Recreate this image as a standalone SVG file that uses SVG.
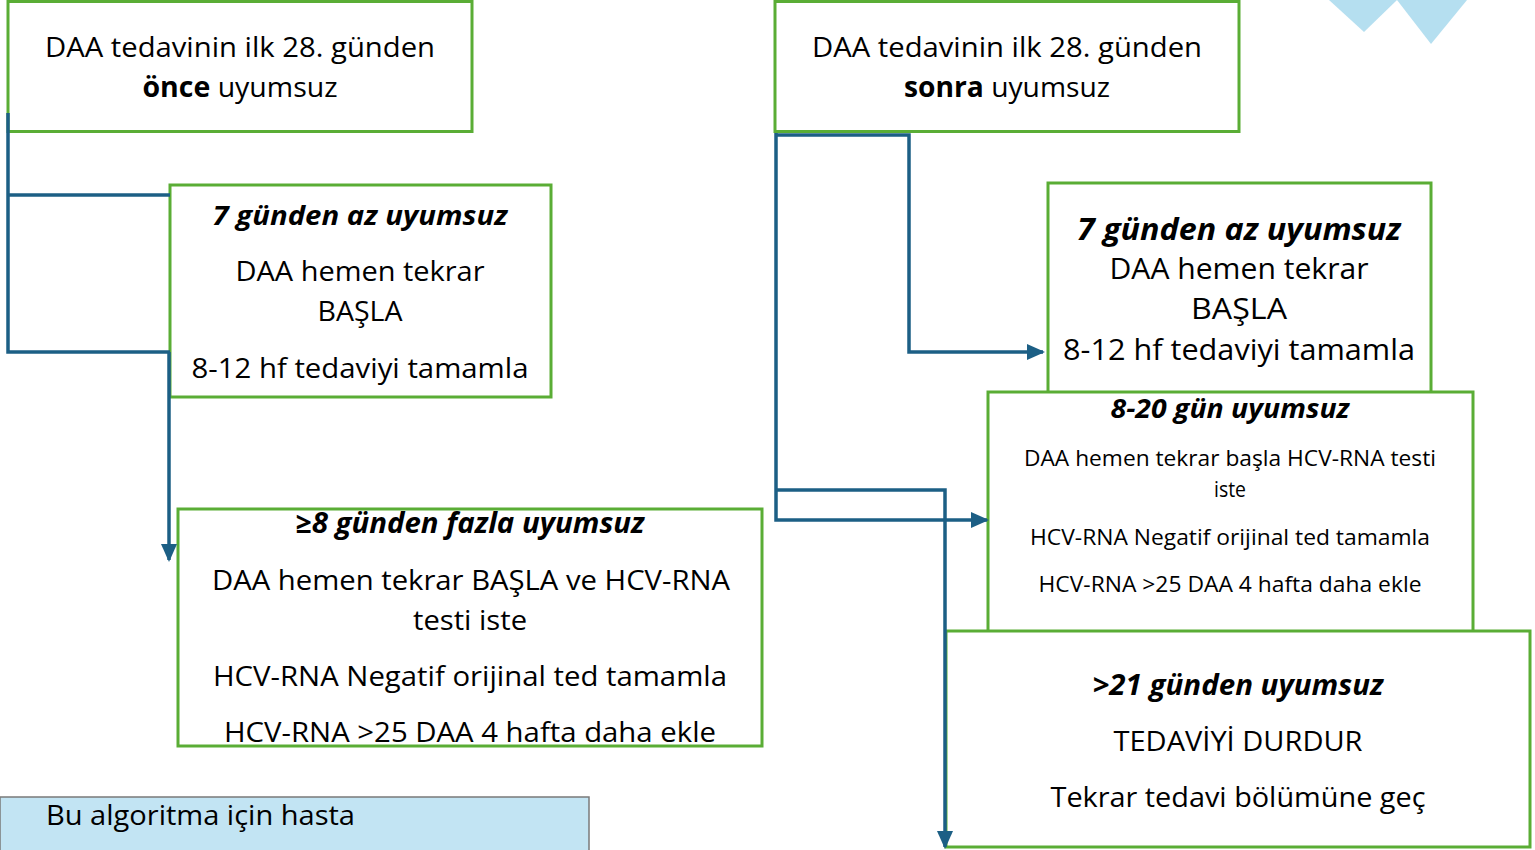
<svg xmlns="http://www.w3.org/2000/svg" width="1535" height="850" viewBox="0 0 1535 850">
<style>
.box{fill:#fff;stroke:#5aad35;stroke-width:3}
.t{font-family:"Open Sans","Noto Sans","Liberation Sans",sans-serif;fill:#000;text-anchor:middle}
.b{font-weight:bold}
.bi{font-weight:bold;font-style:italic}
.c{fill:none;stroke:#1c5f85;stroke-width:3.5}
</style>
<defs>
<marker id="ahl" markerWidth="18" markerHeight="18" refX="16" refY="9" orient="auto" markerUnits="userSpaceOnUse" viewBox="0 0 18 18">
<path d="M0,1 L18,9 L0,17 z" fill="#1c5f85"/>
</marker>
</defs>
<rect width="1535" height="850" fill="#fff"/>
<g id="decor">
<polygon points="1329,0 1397,0 1364,32" fill="#b5dff0"/>
<polygon points="1397,0 1467,0 1431,44" fill="#b5dff0"/>
</g>
<g id="n1">
<rect class="box" x="8" y="1.5" width="464" height="130"/>
<text class="t" x="240" y="57" font-size="28" textLength="390" lengthAdjust="spacingAndGlyphs">DAA tedavinin ilk 28. günden</text>
<text class="t" x="240" y="97" font-size="28" textLength="195" lengthAdjust="spacingAndGlyphs"><tspan class="b">önce</tspan> uyumsuz</text>
</g>
<g id="n2">
<rect class="box" x="170" y="185" width="381" height="212"/>
<text class="t bi" x="360" y="225" font-size="27" textLength="295" lengthAdjust="spacingAndGlyphs">7 günden az uyumsuz</text>
<text class="t" x="360" y="281" font-size="28" textLength="249" lengthAdjust="spacingAndGlyphs">DAA hemen tekrar</text>
<text class="t" x="360" y="321" font-size="28" textLength="85" lengthAdjust="spacingAndGlyphs">BAŞLA</text>
<text class="t" x="360" y="378" font-size="28" textLength="337" lengthAdjust="spacingAndGlyphs">8-12 hf tedaviyi tamamla</text>
</g>
<g id="n3">
<rect class="box" x="178" y="509" width="584" height="237"/>
<text class="t bi" x="470" y="533" font-size="28" textLength="349" lengthAdjust="spacingAndGlyphs">≥8 günden fazla uyumsuz</text>
<text class="t" x="471" y="590" font-size="28" textLength="518" lengthAdjust="spacingAndGlyphs">DAA hemen tekrar BAŞLA ve HCV-RNA</text>
<text class="t" x="470" y="630" font-size="28" textLength="114" lengthAdjust="spacingAndGlyphs">testi iste</text>
<text class="t" x="470" y="686" font-size="28" textLength="514" lengthAdjust="spacingAndGlyphs">HCV-RNA Negatif orijinal ted tamamla</text>
<text class="t" x="470" y="742" font-size="28" textLength="492" lengthAdjust="spacingAndGlyphs">HCV-RNA &gt;25 DAA 4 hafta daha ekle</text>
</g>
<g id="n4">
<rect class="box" x="775" y="1.5" width="464" height="130"/>
<text class="t" x="1007" y="57" font-size="28" textLength="390" lengthAdjust="spacingAndGlyphs">DAA tedavinin ilk 28. günden</text>
<text class="t" x="1007" y="97" font-size="28" textLength="206" lengthAdjust="spacingAndGlyphs"><tspan class="b">sonra</tspan> uyumsuz</text>
</g>
<g id="n5">
<rect class="box" x="1048" y="183" width="383" height="215"/>
<text class="t bi" x="1239" y="240" font-size="30" textLength="324" lengthAdjust="spacingAndGlyphs">7 günden az uyumsuz</text>
<text class="t" x="1239" y="279" font-size="30" textLength="259" lengthAdjust="spacingAndGlyphs">DAA hemen tekrar</text>
<text class="t" x="1239" y="319" font-size="30" textLength="96" lengthAdjust="spacingAndGlyphs">BAŞLA</text>
<text class="t" x="1239" y="360" font-size="30" textLength="352" lengthAdjust="spacingAndGlyphs">8-12 hf tedaviyi tamamla</text>
</g>
<g id="n6">
<rect class="box" x="988" y="392" width="485" height="240"/>
<text class="t bi" x="1230" y="418" font-size="27" textLength="239" lengthAdjust="spacingAndGlyphs">8-20 gün uyumsuz</text>
<text class="t" x="1230" y="466" font-size="22" textLength="412" lengthAdjust="spacingAndGlyphs">DAA hemen tekrar başla HCV-RNA testi</text>
<text class="t" x="1230" y="497" font-size="22" textLength="32" lengthAdjust="spacingAndGlyphs">iste</text>
<text class="t" x="1230" y="545" font-size="22" textLength="400" lengthAdjust="spacingAndGlyphs">HCV-RNA Negatif orijinal ted tamamla</text>
<text class="t" x="1230" y="592" font-size="22" textLength="383" lengthAdjust="spacingAndGlyphs">HCV-RNA &gt;25 DAA 4 hafta daha ekle</text>
</g>
<g id="n7">
<rect class="box" x="946" y="631" width="584" height="216"/>
<text class="t bi" x="1238" y="695" font-size="28" textLength="291" lengthAdjust="spacingAndGlyphs">&gt;21 günden uyumsuz</text>
<text class="t" x="1238" y="751" font-size="28" textLength="249" lengthAdjust="spacingAndGlyphs">TEDAVİYİ DURDUR</text>
<text class="t" x="1238" y="807" font-size="28" textLength="375" lengthAdjust="spacingAndGlyphs">Tekrar tedavi bölümüne geç</text>
</g>
<g id="n8">
<rect x="0" y="797" width="589" height="60" fill="#c2e4f3" stroke="#7a7a7a" stroke-width="1.5"/>
<text class="t" x="46" y="825" font-size="28" style="text-anchor:start" textLength="309" lengthAdjust="spacingAndGlyphs">Bu algoritma için hasta</text>
</g>
<g id="connectors">
<polyline class="c" points="8,113 8,352 170,352"/>
<line class="c" x1="8" y1="195" x2="170" y2="195"/>
<line class="c" x1="169" y1="352" x2="169" y2="560" marker-end="url(#ahl)"/>
<polyline class="c" points="776,135 909,135 909,352 1043,352" marker-end="url(#ahl)"/>
<polyline class="c" points="776,133 776,520 987,520" marker-end="url(#ahl)"/>
<polyline class="c" points="776,490 945,490 945,847" marker-end="url(#ahl)"/>
</g>
</svg>
